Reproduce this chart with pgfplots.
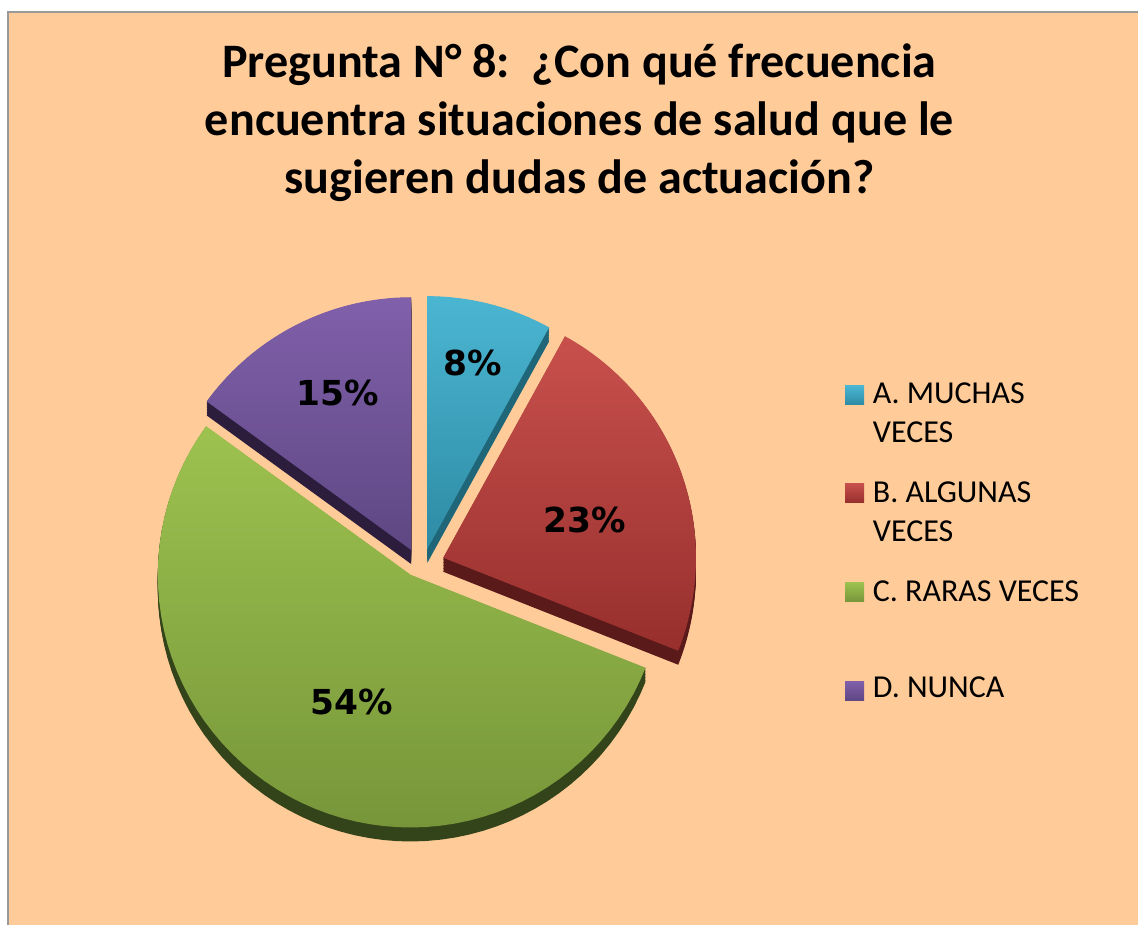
\documentclass[border=0pt]{standalone}
\usepackage{pgfplots}
\pgfplotsset{compat=1.18}
\usepackage{pgfplotstable}
\usepackage{fontspec}
\setmainfont{Carlito}
\newfontfamily\labfont{DejaVu Sans}
\definecolor{bg}{HTML}{FFCC99}
\definecolor{topA}{HTML}{4BB6D2}\definecolor{botA}{HTML}{2E8BA4}\definecolor{sideA}{HTML}{1F6678}
\definecolor{topB}{HTML}{C8504C}\definecolor{botB}{HTML}{972F2D}\definecolor{sideB}{HTML}{5A1A19}
\definecolor{topC}{HTML}{9DC24F}\definecolor{botC}{HTML}{77963A}\definecolor{sideC}{HTML}{34441A}
\definecolor{topD}{HTML}{8060AA}\definecolor{botD}{HTML}{5E4783}\definecolor{sideD}{HTML}{2C1D3D}
\pgfplotstableread{
idx value
0 8
1 23
2 54
3 15
}\piedata
\begin{document}
\begin{tikzpicture}
\begin{axis}[width=11.39cm,height=9.26cm,scale only axis,hide axis,clip=false,
  xmin=0,xmax=1139,ymin=0,ymax=926]
\pgfplotsextra{
  \fill[white] (0,0) rectangle (1139,926);
  \fill[bg] (8,0) rectangle (1139,914);
  \draw[gray!80,line width=0.6pt] (8,0) -- (8,914) -- (1139,914);
  \xdef\cum{0}
  \foreach \i/\c in {0/A,1/B,2/C,3/D}{
    \pgfplotstablegetelem{\i}{value}\of\piedata
    \let\v\pgfplotsretval
    \pgfmathsetmacro\s{90-3.6*\cum}
    \pgfmathsetmacro\e{90-3.6*(\cum+\v)}
    \pgfmathsetmacro\m{(\s+\e)/2}
    \pgfmathsetmacro\ox{422+23*cos(\m)}
    \pgfmathsetmacro\oy{363+14*sin(\m)}
    \foreach \k in {14,12.5,...,0.5}{
      \fill[side\c] (\ox,\oy-\k) \foreach \j in {0,...,60}{
        -- ({\ox+253*cos(\s+(\e-\s)*\j/60)},{\oy-\k+253*sin(\s+(\e-\s)*\j/60)})} -- cycle;
    }
    \shade[top color=top\c,bottom color=bot\c] (\ox,\oy) \foreach \j in {0,...,60}{
        -- ({\ox+253*cos(\s+(\e-\s)*\j/60)},{\oy+253*sin(\s+(\e-\s)*\j/60)})} -- cycle;
    \pgfmathsetmacro\nc{\cum+\v}
    \xdef\cum{\nc}
  }
  % percentage labels
  \begin{scope}[every node/.style={font=\labfont\bfseries\fontsize{9.8}{11}\selectfont,inner sep=0pt}]
  \node at (473,926-363) {8\%};
  \node at (338,926-393) {15\%};
  \node at (585,926-520) {23\%};
  \node at (352,926-703) {54\%};
  \end{scope}
  % title
  \begin{scope}[every node/.style={font=\bfseries\fontsize{13.7}{16}\selectfont,inner sep=0pt,anchor=base}]
  \node at (580,926-78) {Pregunta N° 8:\ \ ¿Con qué frecuencia};
  \node at (580,926-136) {encuentra situaciones de salud que le};
  \node at (580,926-194) {sugieren dudas de actuación?};
  \end{scope}
  % legend
  \begin{scope}[every node/.style={font=\fontsize{9.1}{10}\selectfont,inner sep=0pt,anchor=base west}]
  \shade[top color=topA,bottom color=botA] (846,926-386) rectangle (865,926-405);
  \shade[top color=topB,bottom color=botB] (846,926-484) rectangle (865,926-503);
  \shade[top color=topC,bottom color=botC] (846,926-583) rectangle (865,926-602);
  \shade[top color=topD,bottom color=botD] (846,926-682) rectangle (865,926-701);
  \node at (873,926-404) {A. MUCHAS};
  \node at (873,926-443) {VECES};
  \node at (873,926-503) {B. ALGUNAS};
  \node at (873,926-542) {VECES};
  \node at (873,926-602) {C. RARAS VECES};
  \node at (873,926-698) {D. NUNCA};
  \end{scope}
}
\end{axis}
\end{tikzpicture}
\end{document}
